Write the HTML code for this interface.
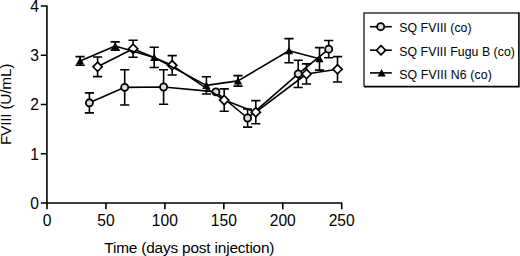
<!DOCTYPE html>
<html><head><meta charset="utf-8"><style>
html,body{margin:0;padding:0;background:#fff;}
body{width:520px;height:256px;overflow:hidden;}
svg{display:block;}
.t{font-family:"Liberation Sans",sans-serif;font-size:15.6px;fill:#000;}
.t2{font-family:"Liberation Sans",sans-serif;font-size:15.4px;fill:#000;}
.l{font-family:"Liberation Sans",sans-serif;font-size:12.3px;fill:#000;}
</style></head><body>
<svg width="520" height="256" viewBox="0 0 520 256">
<path d="M46.9 5.2V203M46.1 203H342.5M40.8 203H46.9M40.8 153.75H46.9M40.8 104.5H46.9M40.8 55.25H46.9M40.8 6H46.9M47 203V209.2M105.94 203V209.2M164.88 203V209.2M223.82 203V209.2M282.76 203V209.2M341.7 203V209.2" stroke="#000" stroke-width="1.6" fill="none"/>
<path d="M89.4 92.9V112.9M84.8 92.9H94M84.8 112.9H94M124.7 69.7V105M120.1 69.7H129.3M120.1 105H129.3M163.6 69.7V104.3M159 69.7H168.2M159 104.3H168.2M247.6 109V127.1M243 109H252.2M243 127.1H252.2M298.2 60.2V87.5M293.6 60.2H302.8M293.6 87.5H302.8M328.7 40.5V57.8M324.1 40.5H333.3M324.1 57.8H333.3" stroke="#000" stroke-width="1.6" fill="none"/>
<polyline points="89.4,102.8 124.7,87.35 163.6,87 215.9,91.9 247.6,118 298.2,73.85 328.7,49.15" stroke="#000" stroke-width="1.6" fill="none" stroke-linejoin="round"/>
<circle cx="89.4" cy="102.8" r="3.55" fill="#dbdbdb" stroke="#000" stroke-width="1.8"/>
<circle cx="124.7" cy="87.35" r="3.55" fill="#dbdbdb" stroke="#000" stroke-width="1.8"/>
<circle cx="163.6" cy="87" r="3.55" fill="#dbdbdb" stroke="#000" stroke-width="1.8"/>
<circle cx="215.9" cy="91.9" r="3.55" fill="#dbdbdb" stroke="#000" stroke-width="1.8"/>
<circle cx="247.6" cy="118" r="3.55" fill="#dbdbdb" stroke="#000" stroke-width="1.8"/>
<circle cx="298.2" cy="73.85" r="3.55" fill="#dbdbdb" stroke="#000" stroke-width="1.8"/>
<circle cx="328.7" cy="49.15" r="3.55" fill="#dbdbdb" stroke="#000" stroke-width="1.8"/>
<path d="M97.6 57V76.6M93 57H102.2M93 76.6H102.2M133.1 40.2V57.3M128.5 40.2H137.7M128.5 57.3H137.7M172.2 55.6V75M167.6 55.6H176.8M167.6 75H176.8M224.2 88.9V111.25M219.6 88.9H228.8M219.6 111.25H228.8M255.8 100.6V123.7M251.2 100.6H260.4M251.2 123.7H260.4M306.5 63.9V84M301.9 63.9H311.1M301.9 84H311.1M337.5 56.6V82M332.9 56.6H342.1M332.9 82H342.1" stroke="#000" stroke-width="1.6" fill="none"/>
<polyline points="97.6,66.8 133.1,48.75 172.2,65.3 224.2,100.1 255.8,112.2 306.5,74 337.5,69.3" stroke="#000" stroke-width="1.6" fill="none" stroke-linejoin="round"/>
<path d="M97.6 62.2L102.2 66.8L97.6 71.4L93 66.8Z" fill="#fff" stroke="#000" stroke-width="1.7" stroke-linejoin="miter"/>
<path d="M133.1 44.15L137.7 48.75L133.1 53.35L128.5 48.75Z" fill="#fff" stroke="#000" stroke-width="1.7" stroke-linejoin="miter"/>
<path d="M172.2 60.7L176.8 65.3L172.2 69.9L167.6 65.3Z" fill="#fff" stroke="#000" stroke-width="1.7" stroke-linejoin="miter"/>
<path d="M224.2 95.5L228.8 100.1L224.2 104.7L219.6 100.1Z" fill="#fff" stroke="#000" stroke-width="1.7" stroke-linejoin="miter"/>
<path d="M255.8 107.6L260.4 112.2L255.8 116.8L251.2 112.2Z" fill="#fff" stroke="#000" stroke-width="1.7" stroke-linejoin="miter"/>
<path d="M306.5 69.4L311.1 74L306.5 78.6L301.9 74Z" fill="#fff" stroke="#000" stroke-width="1.7" stroke-linejoin="miter"/>
<path d="M337.5 64.7L342.1 69.3L337.5 73.9L332.9 69.3Z" fill="#fff" stroke="#000" stroke-width="1.7" stroke-linejoin="miter"/>
<path d="M80.1 56.6V65.2M75.5 56.6H84.7M75.5 65.2H84.7M115.2 41.9V50.1M110.6 41.9H119.8M110.6 50.1H119.8M154.2 47.3V67.5M149.6 47.3H158.8M149.6 67.5H158.8M206.4 76.8V94M201.8 76.8H211M201.8 94H211M238 75.6V86.1M233.4 75.6H242.6M233.4 86.1H242.6M289 38.6V62.8M284.4 38.6H293.6M284.4 62.8H293.6M319.5 47.6V70.1M314.9 47.6H324.1M314.9 70.1H324.1" stroke="#000" stroke-width="1.6" fill="none"/>
<polyline points="80.1,60.9 115.2,46 154.2,57.4 206.4,85.4 238,80.9 289,50.7 319.5,58.85" stroke="#000" stroke-width="1.6" fill="none" stroke-linejoin="round"/>
<path d="M80.1 56.9L84.2 64.4L76 64.4Z" fill="#000"/>
<path d="M115.2 42L119.3 49.5L111.1 49.5Z" fill="#000"/>
<path d="M154.2 53.4L158.3 60.9L150.1 60.9Z" fill="#000"/>
<path d="M206.4 81.4L210.5 88.9L202.3 88.9Z" fill="#000"/>
<path d="M238 76.9L242.1 84.4L233.9 84.4Z" fill="#000"/>
<path d="M289 46.7L293.1 54.2L284.9 54.2Z" fill="#000"/>
<path d="M319.5 54.85L323.6 62.35L315.4 62.35Z" fill="#000"/>
<text x="39" y="208.9" text-anchor="end" class="t">0</text>
<text x="39" y="159.65" text-anchor="end" class="t">1</text>
<text x="39" y="110.4" text-anchor="end" class="t">2</text>
<text x="39" y="61.15" text-anchor="end" class="t">3</text>
<text x="39" y="11.9" text-anchor="end" class="t">4</text>
<text x="47" y="225.6" text-anchor="middle" class="t">0</text>
<text x="105.94" y="225.6" text-anchor="middle" class="t">50</text>
<text x="164.88" y="225.6" text-anchor="middle" class="t">100</text>
<text x="223.82" y="225.6" text-anchor="middle" class="t">150</text>
<text x="282.76" y="225.6" text-anchor="middle" class="t">200</text>
<text x="341.7" y="225.6" text-anchor="middle" class="t">250</text>
<text x="104.3" y="252.5" class="t2" textLength="170.2">Time (days post injection)</text>
<text transform="translate(10.9,145.1) rotate(-90)" x="0" y="0" class="t2" textLength="81.5">FVIII (U/mL)</text>
<path d="M364 86.6V13H518.9" stroke="#333" stroke-width="1.5" fill="none"/>
<path d="M364 86.6H518.9V12.3" stroke="#000" stroke-width="1.6" fill="none"/>
<path d="M370 26.7H391.8" stroke="#000" stroke-width="1.6"/>
<path d="M370 50.2H391.8" stroke="#000" stroke-width="1.6"/>
<path d="M370 72.9H391.8" stroke="#000" stroke-width="1.6"/>
<circle cx="380.7" cy="26.7" r="3.55" fill="#dbdbdb" stroke="#000" stroke-width="1.8"/>
<path d="M381 45.6L385.6 50.2L381 54.8L376.4 50.2Z" fill="#fff" stroke="#000" stroke-width="1.7" stroke-linejoin="miter"/>
<path d="M381.6 68.9L385.7 76.4L377.5 76.4Z" fill="#000"/>
<text x="399.3" y="32.0" class="l" textLength="72.3">SQ FVIII (co)</text>
<text x="399.3" y="55.7" class="l" textLength="115.6">SQ FVIII Fugu B (co)</text>
<text x="399.3" y="78.5" class="l" textLength="92.5">SQ FVIII N6 (co)</text>
</svg>
</body></html>
